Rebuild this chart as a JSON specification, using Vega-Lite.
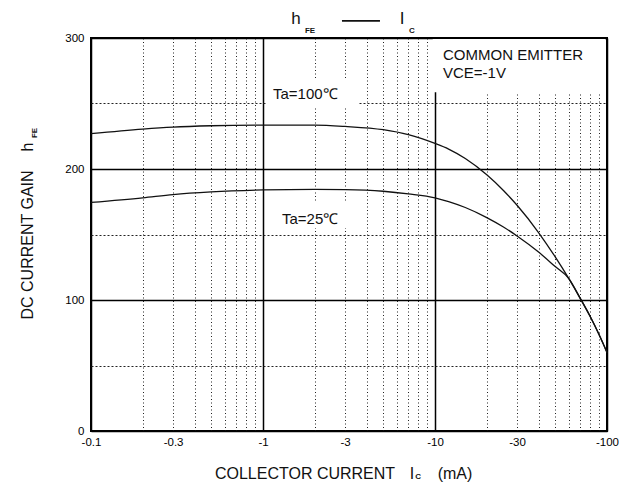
{
  "$schema": "https://vega.github.io/schema/vega-lite/v6.json",
  "width": 516,
  "height": 393,
  "autosize": {"type": "none"},
  "padding": {"left": 91, "top": 38, "right": 12, "bottom": 51},
  "background": "white",
  "config": {
    "view": {"stroke": "black", "strokeWidth": 2},
    "font": "Liberation Sans",
    "text": {"font": "Liberation Sans", "color": "#111"}
  },
  "datasets": {
    "curves": [
      {"ta": "100", "ic": 0.1, "hfe": 227},
      {"ta": "100", "ic": 0.2, "hfe": 230.5},
      {"ta": "100", "ic": 0.3, "hfe": 232},
      {"ta": "100", "ic": 0.5, "hfe": 233},
      {"ta": "100", "ic": 1, "hfe": 233.5},
      {"ta": "100", "ic": 2, "hfe": 233.5},
      {"ta": "100", "ic": 3, "hfe": 232.5},
      {"ta": "100", "ic": 5, "hfe": 230},
      {"ta": "100", "ic": 7, "hfe": 226.2},
      {"ta": "100", "ic": 10, "hfe": 219.5},
      {"ta": "100", "ic": 12, "hfe": 215.2},
      {"ta": "100", "ic": 15, "hfe": 208},
      {"ta": "100", "ic": 20, "hfe": 195.6},
      {"ta": "100", "ic": 25, "hfe": 183.6},
      {"ta": "100", "ic": 30, "hfe": 172.3},
      {"ta": "100", "ic": 40, "hfe": 151.5},
      {"ta": "100", "ic": 50, "hfe": 132.9},
      {"ta": "100", "ic": 60, "hfe": 116.3},
      {"ta": "100", "ic": 70, "hfe": 101.1},
      {"ta": "100", "ic": 80, "hfe": 87.2},
      {"ta": "100", "ic": 90, "hfe": 73.5},
      {"ta": "100", "ic": 100, "hfe": 60},
      {"ta": "25", "ic": 0.1, "hfe": 174.5},
      {"ta": "25", "ic": 0.2, "hfe": 178},
      {"ta": "25", "ic": 0.3, "hfe": 180.5},
      {"ta": "25", "ic": 0.5, "hfe": 182.5},
      {"ta": "25", "ic": 1, "hfe": 184},
      {"ta": "25", "ic": 2, "hfe": 184.5},
      {"ta": "25", "ic": 3, "hfe": 184.3},
      {"ta": "25", "ic": 5, "hfe": 183},
      {"ta": "25", "ic": 7, "hfe": 181},
      {"ta": "25", "ic": 10, "hfe": 178},
      {"ta": "25", "ic": 12, "hfe": 175.1},
      {"ta": "25", "ic": 15, "hfe": 170.6},
      {"ta": "25", "ic": 20, "hfe": 162.9},
      {"ta": "25", "ic": 25, "hfe": 155.7},
      {"ta": "25", "ic": 30, "hfe": 148.9},
      {"ta": "25", "ic": 40, "hfe": 136.6},
      {"ta": "25", "ic": 50, "hfe": 125.5},
      {"ta": "25", "ic": 60, "hfe": 116.3},
      {"ta": "25", "ic": 70, "hfe": 101.1},
      {"ta": "25", "ic": 80, "hfe": 87.2},
      {"ta": "25", "ic": 90, "hfe": 73.5},
      {"ta": "25", "ic": 100, "hfe": 60}
    ],
    "masks": [
      {"ic": 9.7, "ic2": 97.5, "hfe": 258.5, "hfe2": 299.3},
      {"ic": 1.04, "ic2": 3.57, "hfe": 246.6, "hfe2": 268},
      {"ic": 1.08, "ic2": 3.2, "hfe": 155, "hfe2": 174}
    ],
    "notes": [
      {"ic": 11.13, "hfe": 287, "label": "COMMON  EMITTER"},
      {"ic": 11.13, "hfe": 273.3, "label": "VCE=-1V"},
      {"ic": 1.143, "hfe": 257.3, "label": "Ta=100℃"},
      {"ic": 1.289, "hfe": 162.2, "label": "Ta=25℃"}
    ],
    "big": [
      {"ic": 1.555, "hfe": 314.5, "label": "h"},
      {"ic": 6.43, "hfe": 314.5, "label": "I"}
    ],
    "subs": [
      {"ic": 1.876, "hfe": 305.3, "label": "FE"},
      {"ic": 7.35, "hfe": 305.3, "label": "C"},
      {"ic": 7.97, "hfe": -35.3, "label": "C"}
    ],
    "dash": [
      {"ic": 2.878, "ic2": 4.787, "hfe": 313}
    ],
    "xtitle": [
      {"ic": 1.755, "hfe": -32.8, "label": "COLLECTOR CURRENT"},
      {"ic": 7.35, "hfe": -32.8, "label": "I"},
      {"ic": 13.07, "hfe": -32.8, "label": "(mA)"}
    ],
    "ytitle": [
      {"ic": 0.043, "hfe": 142, "label": "DC CURRENT GAIN"},
      {"ic": 0.043, "hfe": 216.8, "label": "h"}
    ],
    "ysub": [
      {"ic": 0.0472, "hfe": 227.5, "label": "FE"}
    ]
  },
  "encoding": {
    "x": {
      "field": "ic",
      "type": "quantitative",
      "scale": {"type": "log", "domain": [0.1, 100]},
      "axis": {
        "title": null,
        "values": [0.1, 0.2, 0.3, 0.4, 0.5, 0.6, 0.7, 0.8, 0.9, 1, 2, 3, 4, 5, 6, 7, 8, 9, 10, 20, 30, 40, 50, 60, 70, 80, 90, 100],
        "grid": true,
        "ticks": false,
        "domain": false,
        "labelExpr": "indexof([0.1,0.3,1,3,10,30,100], datum.value) >= 0 ? '-' + datum.value : ''",
        "labelFont": "Liberation Sans",
        "labelFontSize": 11.5,
        "labelColor": "black",
        "labelPadding": 5,
        "labelFlush": false,
        "labelOverlap": false,
        "gridOpacity": 1,
        "gridColor": {"condition": {"test": "indexof([0.1,1,10,100], datum.value) >= 0", "value": "black"}, "value": "#222"},
        "gridWidth": {"condition": {"test": "indexof([0.1,1,10,100], datum.value) >= 0", "value": 1.5}, "value": 1},
        "gridDash": {"condition": {"test": "indexof([0.1,1,10,100], datum.value) >= 0", "value": [1, 0]}, "value": [1, 2.5]}
      }
    },
    "y": {
      "field": "hfe",
      "type": "quantitative",
      "scale": {"domain": [0, 300]},
      "axis": {
        "title": null,
        "values": [0, 50, 100, 150, 200, 250, 300],
        "grid": true,
        "ticks": false,
        "domain": false,
        "labelExpr": "datum.value % 100 == 0 ? datum.label : ''",
        "labelFont": "Liberation Sans",
        "labelFontSize": 11.5,
        "labelColor": "black",
        "labelPadding": 7,
        "labelOverlap": false,
        "gridOpacity": 1,
        "gridColor": {"condition": {"test": "datum.value % 100 == 0", "value": "black"}, "value": "#222"},
        "gridWidth": {"condition": {"test": "datum.value % 100 == 0", "value": 1.5}, "value": 1},
        "gridDash": {"condition": {"test": "datum.value % 100 == 0", "value": [1, 0]}, "value": [2, 2]}
      }
    }
  },
  "layer": [
    {
      "data": {"name": "masks"},
      "mark": {"type": "rect", "fill": "white", "stroke": null},
      "encoding": {"x2": {"field": "ic2"}, "y2": {"field": "hfe2"}}
    },
    {
      "data": {"name": "curves"},
      "mark": {"type": "line", "interpolate": "monotone", "color": "#111", "strokeWidth": 1.3},
      "encoding": {"detail": {"field": "ta", "type": "nominal"}}
    },
    {
      "data": {"name": "notes"},
      "mark": {"type": "text", "align": "left", "baseline": "middle", "fontSize": 15},
      "encoding": {"text": {"field": "label"}}
    },
    {
      "data": {"name": "big"},
      "mark": {"type": "text", "align": "center", "baseline": "middle", "fontSize": 17},
      "encoding": {"text": {"field": "label"}}
    },
    {
      "data": {"name": "subs"},
      "mark": {"type": "text", "align": "center", "baseline": "middle", "fontSize": 8, "fontWeight": "bold"},
      "encoding": {"text": {"field": "label"}}
    },
    {
      "data": {"name": "dash"},
      "mark": {"type": "rule", "color": "#111", "strokeWidth": 1.8},
      "encoding": {"x2": {"field": "ic2"}}
    },
    {
      "data": {"name": "xtitle"},
      "mark": {"type": "text", "align": "center", "baseline": "middle", "fontSize": 16},
      "encoding": {"text": {"field": "label"}}
    },
    {
      "data": {"name": "ytitle"},
      "mark": {"type": "text", "align": "center", "baseline": "middle", "fontSize": 16, "angle": 270},
      "encoding": {"text": {"field": "label"}}
    },
    {
      "data": {"name": "ysub"},
      "mark": {"type": "text", "align": "center", "baseline": "middle", "fontSize": 8, "fontWeight": "bold", "angle": 270},
      "encoding": {"text": {"field": "label"}}
    }
  ]
}
